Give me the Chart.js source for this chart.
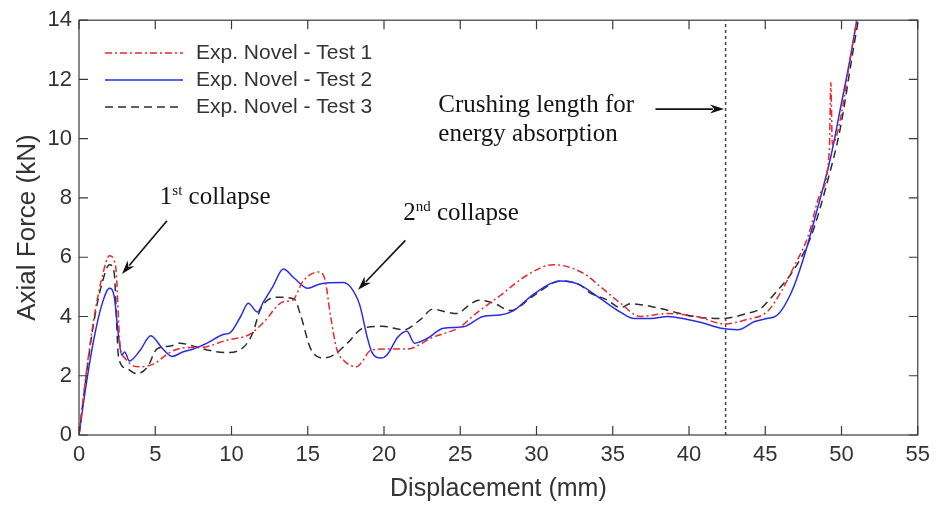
<!DOCTYPE html>
<html lang="en">
<head>
    <meta charset="UTF-8">
    <title>Axial Force vs Displacement</title>
    <script src="https://cdn.jsdelivr.net/npm/chart.js"></script>
    <style>
        html, body { margin: 0; padding: 0; background: #fff; }
        #wrap { width: 937px; height: 509px; }
    </style>
</head>
<body>
    <div id="wrap">
        <canvas id="crushChart" width="937" height="509"></canvas>
    </div>

    <script>
        // Test 1 (red, dash-dot)
        const test1X = [0, 0.5, 1.0, 1.5, 2.0, 2.4, 2.7, 3.0, 3.5, 4.0, 4.9, 6.0, 7.0, 7.9, 9.7, 11.2, 12.1, 13.4, 14.0, 14.7, 15.7, 16.1, 16.5, 16.9, 17.4, 17.8, 18.2, 18.6, 19.1, 20.0, 21.5, 23.2, 25.0, 25.9, 27.6, 29.4, 31.1, 33.1, 34.2, 35.5, 36.8, 38.6, 40.5, 42.3, 43.8, 45.1, 46.0, 46.9, 47.8, 48.6, 49.2, 49.3, 49.4, 49.9, 50.6, 51.0];
        const test1Y = [0, 2.2, 4.0, 5.3, 6.05, 5.7, 3.0, 2.6, 2.35, 2.3, 2.4, 2.8, 2.95, 2.95, 3.2, 3.4, 3.8, 4.5, 4.55, 5.2, 5.5, 5.3, 4.0, 2.9, 2.5, 2.35, 2.3, 2.5, 2.85, 2.9, 2.9, 3.3, 3.65, 4.05, 4.7, 5.4, 5.75, 5.45, 5.0, 4.45, 4.0, 4.1, 4.0, 3.75, 3.9, 4.15, 4.8, 5.7, 6.7, 8.15, 9.6, 11.9, 9.8, 10.6, 12.8, 14.0];

        // Test 2 (blue, solid)
        const test2X = [0, 0.5, 1.0, 1.5, 2.0, 2.3, 2.6, 2.8, 3.0, 3.3, 4.0, 4.7, 5.5, 6.1, 6.8, 7.5, 8.4, 9.5, 9.9, 10.6, 11.1, 11.7, 12.1, 12.7, 13.4, 14.1, 15.0, 15.8, 17.3, 17.8, 18.4, 18.9, 19.2, 19.8, 20.2, 20.9, 21.5, 22.0, 22.8, 23.9, 25.2, 26.5, 27.6, 28.5, 29.8, 31.6, 32.7, 34.2, 35.5, 36.4, 37.5, 38.6, 39.9, 40.8, 42.1, 43.2, 44.3, 45.1, 45.8, 46.7, 47.5, 48.4, 49.3, 49.9, 50.6, 51.0];
        const test2Y = [0, 1.8, 3.3, 4.4, 4.95, 4.7, 3.3, 2.7, 2.8, 2.5, 2.85, 3.35, 2.9, 2.65, 2.8, 2.9, 3.1, 3.4, 3.45, 4.0, 4.45, 4.15, 4.5, 5.0, 5.6, 5.3, 4.95, 5.1, 5.15, 5.0, 4.4, 3.3, 2.8, 2.6, 2.7, 3.3, 3.5, 3.1, 3.25, 3.6, 3.65, 4.0, 4.05, 4.2, 4.75, 5.2, 5.1, 4.6, 4.15, 3.93, 3.93, 4.0, 3.9, 3.8, 3.6, 3.55, 3.83, 3.93, 4.05, 4.8, 5.95, 7.6, 9.4, 10.95, 12.8, 14.0];

        // Test 3 (black, dashed)
        const test3X = [0, 0.5, 1.0, 1.5, 2.0, 2.3, 2.6, 3.1, 3.8, 4.5, 5.1, 6.0, 6.6, 7.5, 8.6, 9.7, 10.8, 11.4, 11.9, 13.0, 14.1, 14.5, 15.2, 16.0, 16.7, 17.6, 18.6, 19.9, 21.3, 22.4, 23.2, 24.1, 24.8, 25.5, 26.2, 27.2, 28.3, 29.8, 31.6, 32.9, 33.5, 34.6, 35.5, 36.2, 38.1, 40.3, 42.1, 43.8, 44.7, 45.5, 46.9, 48.0, 49.1, 49.9, 50.8, 51.1];
        const test3Y = [0, 2.1, 3.9, 5.1, 5.75, 5.5, 2.6, 2.25, 2.07, 2.3, 2.9, 3.0, 3.1, 3.0, 2.85, 2.78, 2.97, 3.45, 4.25, 4.65, 4.6, 4.1, 2.9, 2.6, 2.7, 3.1, 3.6, 3.67, 3.55, 3.9, 4.25, 4.15, 4.1, 4.35, 4.55, 4.45, 4.2, 4.7, 5.2, 5.05, 4.8, 4.57, 4.3, 4.43, 4.27, 4.0, 3.93, 4.1, 4.27, 4.7, 5.6, 6.7, 8.6, 10.3, 13.1, 14.0];

        const seriesLabels = ['Exp. Novel - Test 1', 'Exp. Novel - Test 2', 'Exp. Novel - Test 3'];
        const crushingLength = 42.4;   // mm, dotted marker line

        const styles = [
            { color: 'rgb(232,40,44)', dash: [7, 3, 2, 3] },
            { color: 'rgb(40,44,232)', dash: [] },
            { color: 'rgb(45,45,45)', dash: [8, 5] }
        ];

        const toPoints = (xs, ys) => xs.map((x, i) => ({ x: x, y: ys[i] }));
        const seriesData = [toPoints(test1X, test1Y), toPoints(test2X, test2Y), toPoints(test3X, test3Y)];

        const serif = '"Liberation Serif", "Times New Roman", serif';
        const sans = '"Liberation Sans", Arial, sans-serif';

        // arrows given in data units (tail -> tip)
        const arrows = [
            { from: [5.77, 7.23], to: [2.82, 5.43] },
            { from: [21.4, 6.57], to: [18.3, 4.9] },
            { from: [37.8, 11.0], to: [42.3, 11.0] }
        ];

        function drawArrow(ctx, x1, y1, x2, y2) {
            const ang = Math.atan2(y2 - y1, x2 - x1);
            const len = 14, half = 4.5;
            ctx.beginPath();
            ctx.moveTo(x1, y1);
            ctx.lineTo(x2 - Math.cos(ang) * len * 0.8, y2 - Math.sin(ang) * len * 0.8);
            ctx.stroke();
            ctx.beginPath();
            ctx.moveTo(x2, y2);
            ctx.lineTo(x2 - Math.cos(ang) * len + Math.sin(ang) * half, y2 - Math.sin(ang) * len - Math.cos(ang) * half);
            ctx.lineTo(x2 - Math.cos(ang) * len * 0.7, y2 - Math.sin(ang) * len * 0.7);
            ctx.lineTo(x2 - Math.cos(ang) * len - Math.sin(ang) * half, y2 - Math.sin(ang) * len + Math.cos(ang) * half);
            ctx.closePath();
            ctx.fill();
        }

        // text with a superscript part: base, sup, rest
        function drawSupText(ctx, x, y, base, sup, rest) {
            ctx.font = '25px ' + serif;
            ctx.fillText(base, x, y);
            x += ctx.measureText(base).width;
            ctx.font = '15px ' + serif;
            ctx.fillText(sup, x, y - 9);
            x += ctx.measureText(sup).width;
            ctx.font = '25px ' + serif;
            ctx.fillText(rest, x, y);
        }

        const frameAndNotes = {
            id: 'frameAndNotes',
            afterDatasetsDraw(chart) {
                const ctx = chart.ctx;
                const xs = chart.scales.x, ys = chart.scales.y;
                const a = chart.chartArea;
                ctx.save();

                // crushing length marker
                const cx = xs.getPixelForValue(crushingLength);
                ctx.strokeStyle = '#444';
                ctx.lineWidth = 1.5;
                ctx.setLineDash([3, 3]);
                ctx.beginPath();
                ctx.moveTo(cx, a.bottom);
                ctx.lineTo(cx, a.top);
                ctx.stroke();
                ctx.setLineDash([]);

                // box and inward ticks on all four sides
                ctx.strokeStyle = '#3a3a3a';
                ctx.lineWidth = 1.2;
                ctx.strokeRect(a.left, a.top, a.right - a.left, a.bottom - a.top);
                ctx.beginPath();
                xs.ticks.forEach(t => {
                    const p = xs.getPixelForValue(t.value);
                    ctx.moveTo(p, a.bottom); ctx.lineTo(p, a.bottom - 9);
                    ctx.moveTo(p, a.top); ctx.lineTo(p, a.top + 9);
                });
                ys.ticks.forEach(t => {
                    const p = ys.getPixelForValue(t.value);
                    ctx.moveTo(a.left, p); ctx.lineTo(a.left + 9, p);
                    ctx.moveTo(a.right, p); ctx.lineTo(a.right - 9, p);
                });
                ctx.stroke();

                // legend inside the plot
                ctx.font = '21px ' + sans;
                ctx.textBaseline = 'middle';
                const legendRows = [53, 80, 107];
                seriesLabels.forEach((lab, i) => {
                    const y = legendRows[i];
                    ctx.strokeStyle = styles[i].color;
                    ctx.setLineDash(styles[i].dash);
                    ctx.lineWidth = 1.5;
                    ctx.beginPath();
                    ctx.moveTo(105, y);
                    ctx.lineTo(183, y);
                    ctx.stroke();
                    ctx.setLineDash([]);
                    ctx.fillStyle = '#333';
                    ctx.fillText(lab, 196, y);
                });

                // arrows
                ctx.strokeStyle = '#111';
                ctx.fillStyle = '#111';
                ctx.lineWidth = 1.6;
                arrows.forEach(ar => {
                    drawArrow(ctx,
                        xs.getPixelForValue(ar.from[0]), ys.getPixelForValue(ar.from[1]),
                        xs.getPixelForValue(ar.to[0]), ys.getPixelForValue(ar.to[1]));
                });

                // annotation text
                ctx.textBaseline = 'alphabetic';
                ctx.fillStyle = '#151515';
                drawSupText(ctx, xs.getPixelForValue(5.3), ys.getPixelForValue(7.8), '1', 'st', ' collapse');
                drawSupText(ctx, xs.getPixelForValue(21.26), ys.getPixelForValue(7.27), '2', 'nd', ' collapse');
                ctx.font = '25px ' + serif;
                ctx.fillText('Crushing length for', xs.getPixelForValue(23.56), ys.getPixelForValue(10.9));
                ctx.fillText('energy absorption', xs.getPixelForValue(23.56), ys.getPixelForValue(9.93));

                ctx.restore();
            }
        };

        const ctx = document.getElementById('crushChart').getContext('2d');

        const config = {
            type: 'line',
            data: {
                datasets: seriesData.map((pts, i) => ({
                    label: seriesLabels[i],
                    data: pts,
                    borderColor: styles[i].color,
                    borderDash: styles[i].dash,
                    borderWidth: 1.5,
                    pointRadius: 0,
                    fill: false,
                    cubicInterpolationMode: 'monotone'
                }))
            },
            options: {
                responsive: false,
                animation: false,
                layout: { padding: { top: 15, right: 19, left: 0, bottom: 0 } },
                plugins: {
                    legend: { display: false },
                    tooltip: { enabled: false }
                },
                scales: {
                    x: {
                        type: 'linear',
                        min: 0,
                        max: 55,
                        grid: { display: false, drawTicks: false },
                        border: { display: false },
                        ticks: {
                            stepSize: 5,
                            padding: 7,
                            color: '#333',
                            font: { family: sans, size: 22 }
                        },
                        title: {
                            display: true,
                            text: 'Displacement (mm)',
                            color: '#333',
                            font: { family: sans, size: 25 },
                            padding: { top: 0, bottom: 5 }
                        },
                        afterFit: (scale) => { scale.height = 74; }
                    },
                    y: {
                        min: 0,
                        max: 14,
                        grid: { display: false, drawTicks: false },
                        border: { display: false },
                        ticks: {
                            stepSize: 2,
                            padding: 7,
                            color: '#333',
                            font: { family: sans, size: 22 }
                        },
                        title: {
                            display: true,
                            text: 'Axial Force (kN)',
                            color: '#333',
                            font: { family: sans, size: 26 },
                            padding: { top: 12, bottom: 0 }
                        },
                        afterFit: (scale) => { scale.width = 79; }
                    }
                }
            },
            plugins: [frameAndNotes]
        };

        const crushChart = new Chart(ctx, config);
    </script>
</body>
</html>
